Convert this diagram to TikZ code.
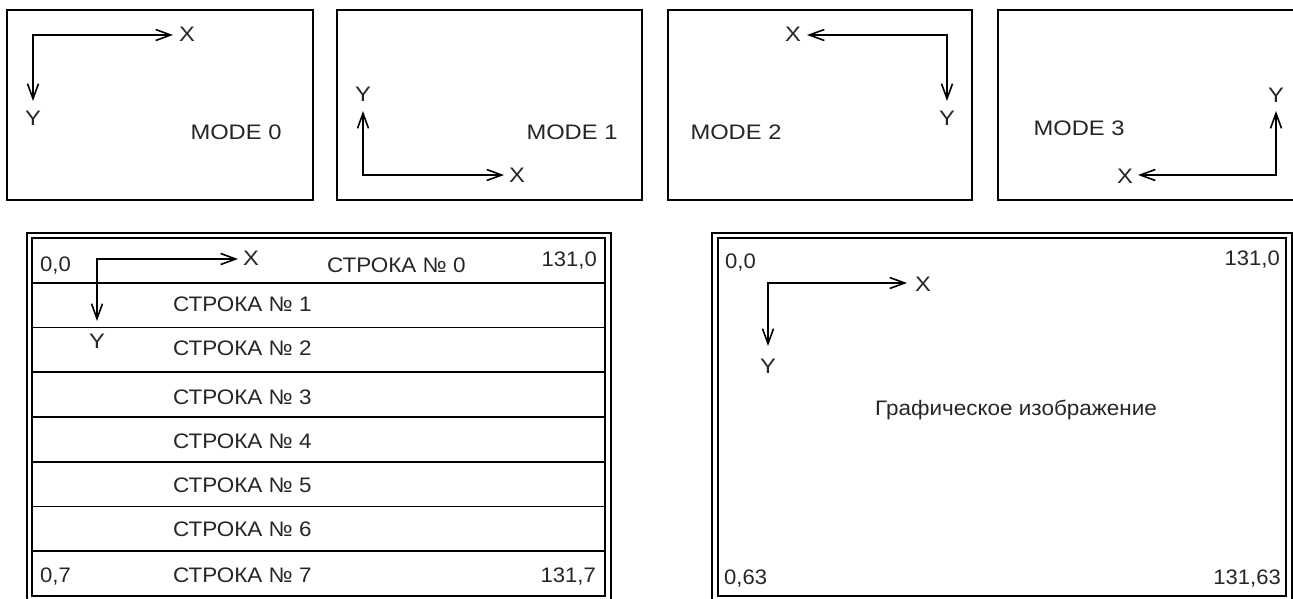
\documentclass[tikz,border=0pt]{standalone}
\usepackage{fontspec}
\usepackage{graphicx}
\setmainfont{Liberation Sans}
\usetikzlibrary{arrows.meta}
\newcommand{\hstr}[1]{\scalebox{1.13}[1]{#1}}
\newcommand{\cstr}[1]{\scalebox{1.07}[1]{#1}}
\newcommand{\nstr}[1]{\scalebox{1.05}[1]{#1}}
\begin{document}
\begin{tikzpicture}[x=1pt,y=-1pt,
  frame/.style={draw, line width=1.6pt},
  ax/.style={line width=1.6pt, line join=miter,
    {Straight Barb[length=15pt,width=11pt,line width=1.6pt]}-{Straight Barb[length=15pt,width=11pt,line width=1.6pt]}},
  lbl/.style={font=\fontsize{21}{21}\selectfont, inner sep=0pt, text=black!85},
  lw/.style={lbl, anchor=west},
  le/.style={lbl, anchor=east}]
\useasboundingbox (0,0) rectangle (1293,598);
\clip (0,0) rectangle (1293,598);
\fill[white] (0,0) rectangle (1293,598);

% ---- top row: MODE boxes ----
\draw[frame] (7,10) rectangle (313,200);
\draw[frame] (337,10) rectangle (642,200);
\draw[frame] (668,10) rectangle (972,200);
\draw[frame] (998,10) rectangle (1303,200);

% MODE 0
\coordinate (o0) at (33,35);
\coordinate (x0) at (173,35);
\coordinate (y0) at (33,101);
\draw[ax] (x0) -- (o0) -- (y0);
\node[lbl] (lx0) at (187,34) {\hstr{X}};
\node[lbl] (ly0) at (33,118) {\hstr{Y}};
\node[lbl] (m0) at (236,132) {\hstr{MODE 0}};

% MODE 1
\coordinate (o1) at (363,175);
\coordinate (x1) at (504,175);
\coordinate (y1) at (363,111);
\draw[ax] (x1) -- (o1) -- (y1);
\node[lbl] (lx1) at (517,175) {\hstr{X}};
\node[lbl] (ly1) at (363,94) {\hstr{Y}};
\node[lbl] (m1) at (572,132) {\hstr{MODE 1}};

% MODE 2
\coordinate (o2) at (947,35);
\coordinate (x2) at (807,35);
\coordinate (y2) at (947,101);
\draw[ax] (x2) -- (o2) -- (y2);
\node[lbl] (lx2) at (793,34) {\hstr{X}};
\node[lbl] (ly2) at (947,118) {\hstr{Y}};
\node[lbl] (m2) at (736,132) {\hstr{MODE 2}};

% MODE 3
\coordinate (o3) at (1276,175);
\coordinate (x3) at (1138,175);
\coordinate (y3) at (1276,111);
\draw[ax] (x3) -- (o3) -- (y3);
\node[lbl] (lx3) at (1125,176) {\hstr{X}};
\node[lbl] (ly3) at (1276,95) {\hstr{Y}};
\node[lbl] (m3) at (1079,128) {\hstr{MODE 3}};

% ---- bottom left: text rows ----
\draw[frame] (27,233) rectangle (611,603);
\draw[frame] (32,238) rectangle (605,596);
\foreach \k in {1,...,7} {
  \draw[frame] (32,{238+44.75*\k}) -- (605,{238+44.75*\k});
}
\node[lw] (t00) at (40,266) {\nstr{0,0}};
\node[le] (t10) at (597,261) {\nstr{131,0}};
\node[lw] (r0) at (327,265) {\cstr{СТРОКА № 0}};
\node[lw] (r1) at (173,304) {\cstr{СТРОКА № 1}};
\node[lw] (r2) at (173,348) {\cstr{СТРОКА № 2}};
\node[lw] (r3) at (173,397) {\cstr{СТРОКА № 3}};
\node[lw] (r4) at (173,441) {\cstr{СТРОКА № 4}};
\node[lw] (r5) at (173,485) {\cstr{СТРОКА № 5}};
\node[lw] (r6) at (173,529) {\cstr{СТРОКА № 6}};
\node[lw] (r7) at (173,575) {\cstr{СТРОКА № 7}};
\node[lw] (t07) at (40,577) {\nstr{0,7}};
\node[le] (t17) at (596,577) {\nstr{131,7}};
\coordinate (ot) at (97,259);
\coordinate (xt) at (238,259);
\coordinate (yt) at (97,321);
\draw[ax] (xt) -- (ot) -- (yt);
\node[lbl] (lxt) at (251,258) {\hstr{X}};
\node[lbl] (lyt) at (97,341) {\hstr{Y}};

% ---- bottom right: graphics ----
\draw[frame] (712,233) rectangle (1292,603);
\draw[frame] (718,238) rectangle (1286,596);
\node[lw] (g00) at (725,263) {\nstr{0,0}};
\node[le] (g10) at (1280,260) {\nstr{131,0}};
\node[lw] (g063) at (724,579) {\nstr{0,63}};
\node[le] (g163) at (1281,579) {\nstr{131,63}};
\coordinate (og) at (768,283);
\coordinate (xg) at (907,283);
\coordinate (yg) at (768,346);
\draw[ax] (xg) -- (og) -- (yg);
\node[lbl] (lxg) at (923,284) {\hstr{X}};
\node[lbl] (lyg) at (768,366) {\hstr{Y}};
\node[lbl] (gtxt) at (1016,410) {\cstr{Графическое изображение}};
\end{tikzpicture}
\end{document}
